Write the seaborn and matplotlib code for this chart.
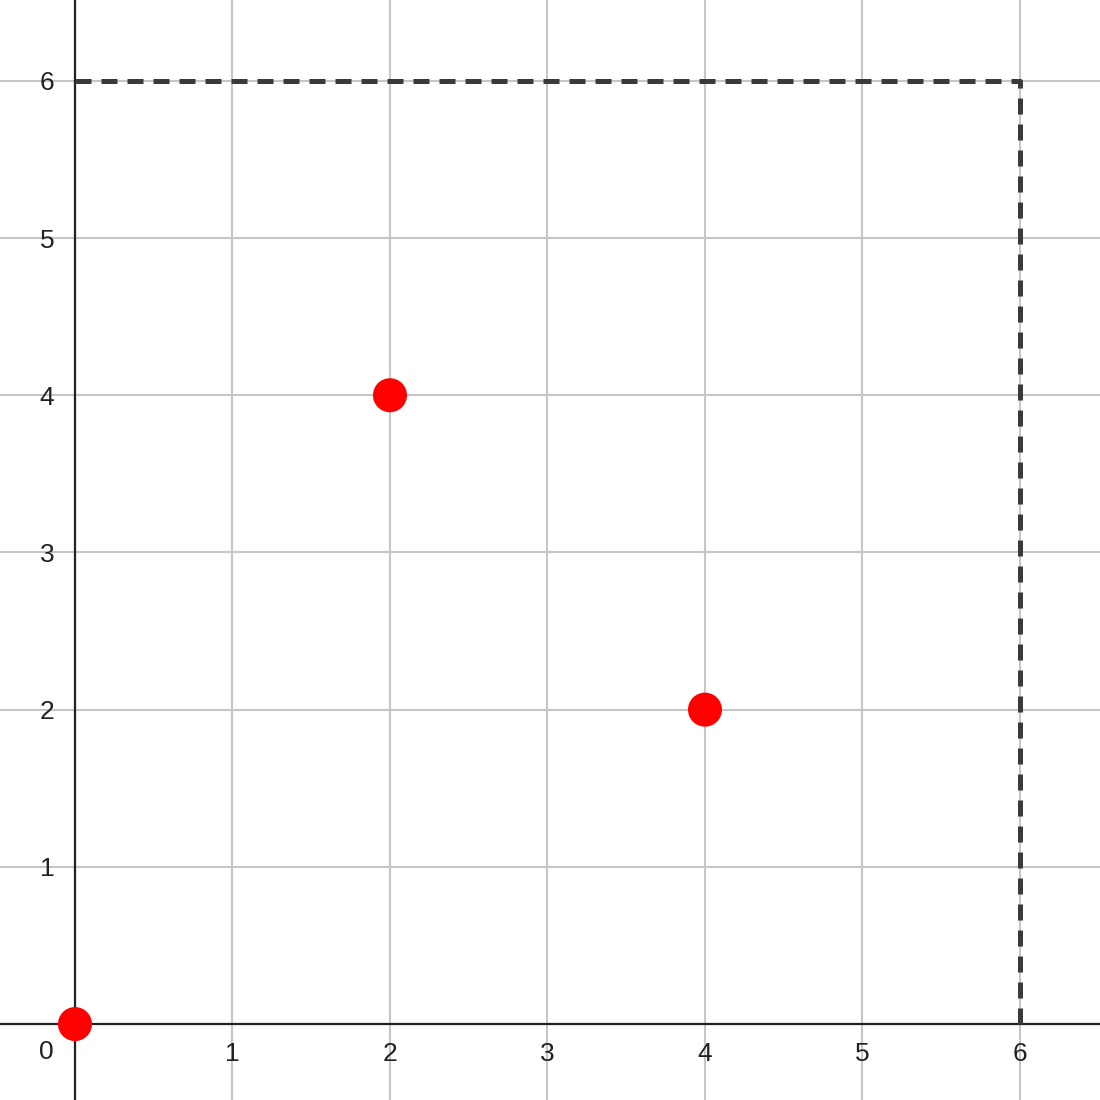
import matplotlib
matplotlib.use("Agg")
import matplotlib.pyplot as plt
import seaborn as sns
import pandas as pd

# Data
point_x = [0, 2, 4]
point_y = [0, 4, 2]
bound_x = [0, 6, 6]
bound_y = [6, 6, 0]
tick_values = [0, 1, 2, 3, 4, 5, 6]
tick_labels = ["", "1", "2", "3", "4", "5", "6"]

sns.set_theme(style="white")
plt.rcParams['font.family'] = ['Liberation Sans', 'DejaVu Sans']

fig = plt.figure(figsize=(11, 11), dpi=100)
ax = fig.add_axes([0, 0, 1, 1])
ax.set_xlim(-0.476, 6.508)
ax.set_ylim(-0.483, 6.514)

ax.set_axisbelow(True)
ax.grid(True, color="#c6c6c6", linewidth=1.5)

# dashed boundary
bound_df = pd.DataFrame({"x": bound_x, "y": bound_y})
ax.plot(bound_df["x"], bound_df["y"], color="#3a3a3a", linewidth=3.6,
        dashes=(3.2, 2.0), zorder=3, solid_joinstyle="miter")

pts = pd.DataFrame({"x": point_x, "y": point_y})
sns.scatterplot(data=pts, x="x", y="y", ax=ax, color="#ff0000", s=600,
                edgecolor="none", zorder=5, legend=False)

for s in ["top", "right"]:
    ax.spines[s].set_visible(False)
ax.spines["left"].set_position(("data", 0))
ax.spines["bottom"].set_position(("data", 0))
for s in ["left", "bottom"]:
    ax.spines[s].set_color("#222222")
    ax.spines[s].set_linewidth(1.6)
    ax.spines[s].set_zorder(2)

ax.set_xticks(tick_values)
ax.set_xticklabels(tick_labels)
ax.set_yticks(tick_values)
ax.set_yticklabels(tick_labels)
ax.tick_params(axis="x", length=0, pad=13, labelsize=19, labelcolor="#222222")
ax.tick_params(axis="y", length=0, pad=15, labelsize=19, labelcolor="#222222")
ax.set_xlabel("")
ax.set_ylabel("")
ax.text(-0.18, -0.18, "0", fontsize=19, color="#222222", ha="center", va="center")

fig.savefig("out.png", dpi=100)
